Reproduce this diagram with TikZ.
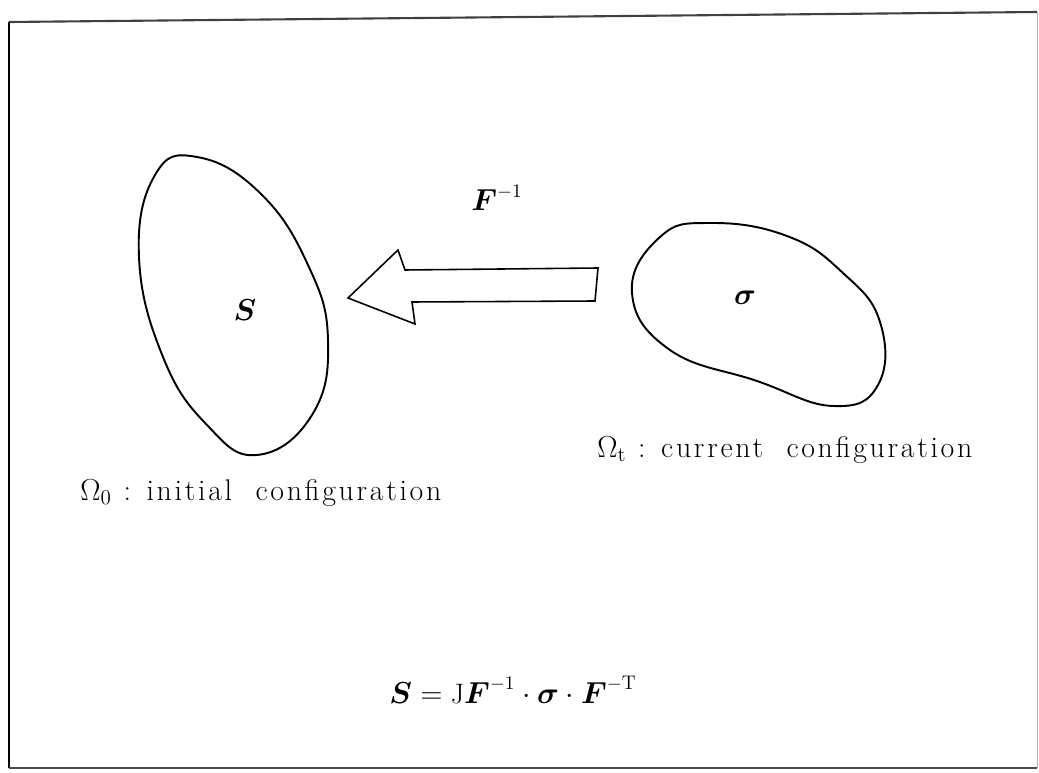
\documentclass[tikz,border=0pt]{standalone}
\usepackage{amsmath}
\usepackage{amssymb}
\usepackage{fontspec}
\newfontfamily\widefont[LetterSpace=9]{Latin Modern Roman}

\tikzset{
    blob/.style={line width=1.1pt,line join=round},
    lbl/.style={inner sep=0pt,font=\fontsize{17}{20}\widefont},
    sym/.style={inner sep=0pt,font=\fontsize{16}{19}\selectfont}
}

\begin{document}
\begin{tikzpicture}[x=0.02cm,y=-0.02cm]
                \useasboundingbox (0,0) rectangle (1039,773);
                \draw[line width=1.2pt,black!75] (9,22) -- (1037,12);
                \draw[line width=1.2pt] (9,22) -- (9,768);
                \draw[line width=1.2pt,black!70] (9,768) -- (1037,768);
                \draw[line width=0.5pt,black!30] (1037,12) -- (1037,768);
                \draw[blob] plot[smooth cycle,tension=0.75] coordinates {
                    (197,157) (260,193) (308,265) (328,340) (312,415) (257,455)
                    (207,425) (163,357) (139,257) (155,175)};
                \draw[blob] plot[smooth cycle,tension=0.75] coordinates {
                    (710,223) (787,236) (843,273) (880,322) (878,385) (833,406)
                    (757,381) (670,350) (632,293) (660,237)};
                \draw[line width=0.9pt,line join=miter] (348,298) -- (398,250) -- (405,270)
                    -- (598,268) -- (595,301) -- (412,302) -- (415,324) -- cycle;
                \node[sym] (S) at (245,310) {$\boldsymbol{S}$};
                \node[sym] (sig) at (745,298) {$\boldsymbol{\sigma}$};
                \node[sym] (Finv) at (497,198) {$\boldsymbol{F}^{-1}$};
                \node[lbl,anchor=west] (omega0) at (80,493) {$\Omega_0$ : initial\ \ configuration};
                \node[lbl,anchor=west] (omegat) at (597,450) {$\Omega_{\mathrm{t}}$ : current\ \ configuration};
                \node[sym] (rel) at (513,690)
                    {$\boldsymbol{S}=\mathrm{J}\boldsymbol{F}^{-1}\cdot\boldsymbol{\sigma}\cdot\boldsymbol{F}^{-\mathrm{T}}$};
            \end{tikzpicture}
\end{document}
